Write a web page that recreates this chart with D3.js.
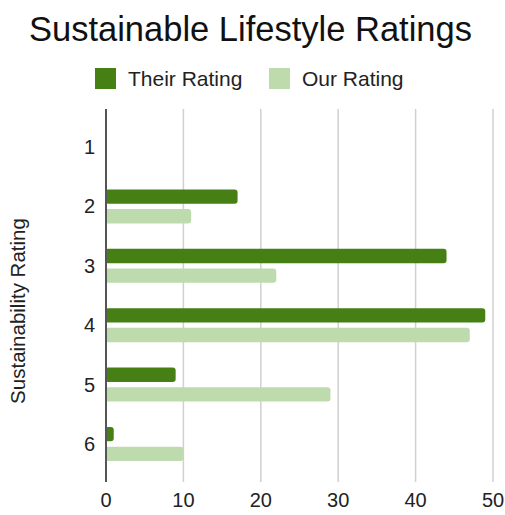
<!DOCTYPE html>
<html>
<head>
<meta charset="utf-8">
<script src="https://cdn.jsdelivr.net/npm/d3@7"></script>
<style>
  body { margin: 0; background: #fff; }
  svg { font-family: "Liberation Sans", Arial, sans-serif; }
</style>
</head>
<body>
<div id="chart"></div>
<script>
// Data
const categories = ['1', '2', '3', '4', '5', '6'];
const seriesNames = ['Their Rating', 'Our Rating'];
const theirRating = [0, 17, 44, 49, 9, 1];
const ourRating = [0, 11, 22, 47, 29, 10];
const xTicks = [0, 10, 20, 30, 40, 50];

const colors = ['#467f14', '#bddbad'];

const width = 505;
const height = 515;
const margin = { top: 109, right: 12, bottom: 33, left: 106 };

const svg = d3.select('#chart').append('svg')
    .attr('width', width)
    .attr('height', height);

const x = d3.scaleLinear()
    .domain([0, 50])
    .range([margin.left, 493]);

const y = d3.scaleBand()
    .domain(categories)
    .range([margin.top, height - margin.bottom])
    .paddingOuter(0.14)
    .paddingInner(0);

const ySeries = d3.scaleBand()
    .domain(seriesNames)
    .range([0, 34])
    .paddingInner(0.27);

// Title
svg.append('text')
    .attr('x', width / 2 - 2)
    .attr('y', 41)
    .attr('text-anchor', 'middle')
    .attr('font-size', 34.5)
    .attr('fill', '#111')
    .text('Sustainable Lifestyle Ratings');

// Legend
const legendItems = [
    { name: seriesNames[0], color: colors[0], x: 95 },
    { name: seriesNames[1], color: colors[1], x: 269 }
];
const legend = svg.selectAll('.legend')
    .data(legendItems)
    .enter()
    .append('g')
    .attr('class', 'legend')
    .attr('transform', d => `translate(${d.x}, 68)`);
legend.append('rect')
    .attr('width', 21)
    .attr('height', 21)
    .attr('fill', d => d.color);
legend.append('text')
    .attr('x', 33)
    .attr('y', 18)
    .attr('font-size', 21)
    .attr('fill', '#222')
    .text(d => d.name);

// Gridlines
svg.append('g')
    .selectAll('line')
    .data(xTicks.slice(1))
    .enter()
    .append('line')
    .attr('x1', d => x(d))
    .attr('x2', d => x(d))
    .attr('y1', margin.top)
    .attr('y2', height - margin.bottom)
    .attr('stroke', '#d0d0d0')
    .attr('stroke-width', 1.5);

// Bars
const rows = categories.map((c, i) => ({ cat: c, values: [theirRating[i], ourRating[i]] }));
const groups = svg.selectAll('.row')
    .data(rows)
    .enter()
    .append('g')
    .attr('class', 'row')
    .attr('transform', d => `translate(0, ${y(d.cat) + (y.bandwidth() - 34) / 2})`);

groups.selectAll('rect')
    .data(d => d.values.map((v, i) => ({ name: seriesNames[i], value: v, color: colors[i] })))
    .enter()
    .filter(d => d.value > 0)
    .append('rect')
    .attr('x', x(0) - 1)
    .attr('y', d => ySeries(d.name))
    .attr('width', d => x(d.value) - x(0) + 1)
    .attr('height', ySeries.bandwidth())
    .attr('rx', 3)
    .attr('fill', d => d.color);

// Axis line
svg.append('line')
    .attr('x1', x(0))
    .attr('x2', x(0))
    .attr('y1', margin.top)
    .attr('y2', height - margin.bottom)
    .attr('stroke', '#555')
    .attr('stroke-width', 2);

// Y tick labels
svg.append('g')
    .selectAll('text')
    .data(categories)
    .enter()
    .append('text')
    .attr('x', 95)
    .attr('y', d => y(d) + y.bandwidth() / 2 + 7)
    .attr('text-anchor', 'end')
    .attr('font-size', 20)
    .attr('fill', '#222')
    .text(d => d);

// X tick labels
svg.append('g')
    .selectAll('text')
    .data(xTicks)
    .enter()
    .append('text')
    .attr('x', d => x(d))
    .attr('y', 507)
    .attr('text-anchor', 'middle')
    .attr('font-size', 20)
    .attr('fill', '#222')
    .text(d => d);

// Y axis title
svg.append('text')
    .attr('transform', 'translate(25, 311) rotate(-90)')
    .attr('text-anchor', 'middle')
    .attr('font-size', 20.5)
    .attr('fill', '#222')
    .text('Sustainability Rating');
</script>
</body>
</html>
